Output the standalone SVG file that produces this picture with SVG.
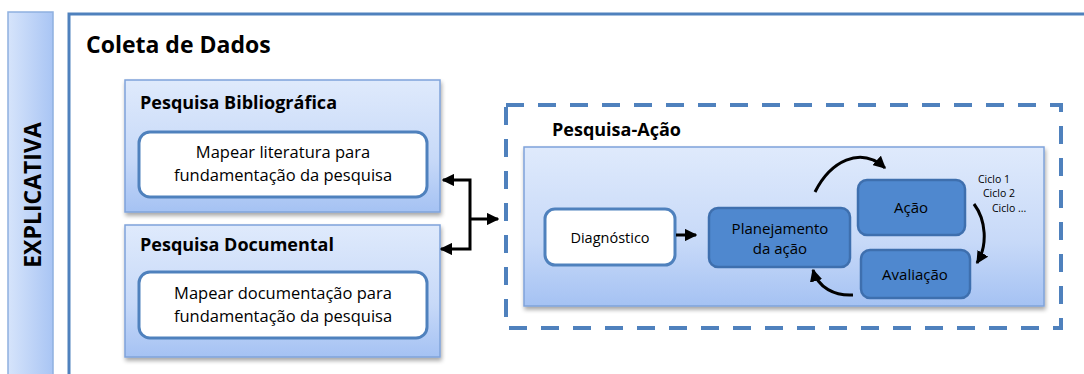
<svg xmlns="http://www.w3.org/2000/svg" width="1084" height="374" viewBox="0 0 1084 374">
<defs>
<linearGradient id="gb" x1="0" y1="0" x2="0" y2="1">
<stop offset="0" stop-color="#dfeafc"/>
<stop offset="0.6" stop-color="#c7d9f8"/>
<stop offset="1" stop-color="#a5c2f3"/>
</linearGradient>
<linearGradient id="gv" x1="0" y1="0" x2="1" y2="0">
<stop offset="0" stop-color="#d6e4fb"/>
<stop offset="1" stop-color="#a9c5f4"/>
</linearGradient>
<filter id="sh" x="-10%" y="-10%" width="120%" height="130%">
<feGaussianBlur in="SourceAlpha" stdDeviation="2"/>
<feOffset dx="1" dy="3" result="o"/>
<feComponentTransfer><feFuncA type="linear" slope="0.35"/></feComponentTransfer>
<feMerge><feMergeNode/><feMergeNode in="SourceGraphic"/></feMerge>
</filter>
<marker id="ah" viewBox="0 0 10 10" refX="9" refY="5" markerWidth="4.2" markerHeight="4.2" orient="auto-start-reverse" markerUnits="strokeWidth">
<path d="M0,0 L10,5 L0,10 z" fill="#000"/>
</marker>
</defs>
<style>
.t{font-family:"Open Sans","Liberation Sans",sans-serif;fill:#000}
.b{font-weight:bold}
.outer{fill:url(#gb);stroke:#7fa3da;stroke-width:1.5}
.white{fill:#fff;stroke:#4f81bd;stroke-width:3}
.mid{fill:#4f88cf;stroke:#3e6fae;stroke-width:2.5}
.con{fill:none;stroke:#000;stroke-width:3}
</style>
<rect width="1084" height="374" fill="#fff"/>

<g id="explicativa">
<rect x="8" y="12" width="45" height="370" fill="url(#gv)" stroke="#8fb0e0" stroke-width="1.5"/>
<text class="t b" x="41" y="195" font-size="23" text-anchor="middle" transform="rotate(-90 41 195)">EXPLICATIVA</text>
</g>

<g id="coleta">
<rect x="69" y="14" width="1030" height="380" fill="#fff" stroke="#4f81bd" stroke-width="3"/>
<text class="t b" x="86" y="53" font-size="23">Coleta de Dados</text>
</g>

<g id="bibliografica">
<rect class="outer" x="125" y="80" width="315" height="132" filter="url(#sh)"/>
<text class="t b" x="140" y="109" font-size="18">Pesquisa Bibliográfica</text>
<rect class="white" x="139" y="132" width="288" height="65" rx="11"/>
<text class="t" x="283" y="158" font-size="16.5" text-anchor="middle">Mapear literatura para</text>
<text class="t" x="283" y="181" font-size="16.5" text-anchor="middle">fundamentação da pesquisa</text>
</g>

<g id="documental">
<rect class="outer" x="125" y="225" width="315" height="132" filter="url(#sh)"/>
<text class="t b" x="140" y="251" font-size="18">Pesquisa Documental</text>
<rect class="white" x="139" y="272" width="288" height="66" rx="11"/>
<text class="t" x="283" y="299" font-size="16.5" text-anchor="middle">Mapear documentação para</text>
<text class="t" x="283" y="322" font-size="16.5" text-anchor="middle">fundamentação da pesquisa</text>
</g>

<g id="pesquisa-acao">
<rect x="506" y="105" width="555" height="223" fill="none" stroke="#4f81bd" stroke-width="4" stroke-dasharray="18,14"/>
<text class="t b" x="552" y="136" font-size="18">Pesquisa-Ação</text>
<rect class="outer" x="524" y="147" width="520" height="159" filter="url(#sh)"/>
</g>

<g id="diagnostico">
<rect class="white" x="545" y="209" width="130" height="56" rx="10"/>
<text class="t" x="610" y="243" font-size="14.5" text-anchor="middle">Diagnóstico</text>
</g>

<g id="planejamento">
<rect class="mid" x="709" y="208" width="141" height="59" rx="9"/>
<text class="t" x="780" y="234" font-size="15" text-anchor="middle">Planejamento</text>
<text class="t" x="780" y="254" font-size="15" text-anchor="middle">da ação</text>
</g>

<g id="acao">
<rect class="mid" x="858" y="180" width="107" height="55" rx="9"/>
<text class="t" x="911" y="213" font-size="15" text-anchor="middle">Ação</text>
</g>

<g id="avaliacao">
<rect class="mid" x="861" y="250" width="109" height="48" rx="9"/>
<text class="t" x="915" y="280" font-size="15" text-anchor="middle">Avaliação</text>
</g>

<g id="ciclos">
<text class="t" x="978" y="183" font-size="10.5">Ciclo 1</text>
<text class="t" x="983" y="197" font-size="10.5">Ciclo 2</text>
<text class="t" x="992" y="212" font-size="10.5">Ciclo ...</text>
</g>

<g id="connectors">
<path class="con" d="M443,180 L470,180 L470,249 L441,249" marker-start="url(#ah)" marker-end="url(#ah)" stroke-linejoin="miter"/>
<path class="con" d="M470,219 L498,219" marker-end="url(#ah)"/>
<path class="con" d="M676,235 L696,235" marker-end="url(#ah)"/>
<path class="con" d="M815,192 C830,162 860,145 885,168" marker-end="url(#ah)"/>
<path class="con" d="M974,204 C986,220 988,245 977,263" marker-end="url(#ah)"/>
<path class="con" d="M853,295 C835,296 818,288 813,270" marker-end="url(#ah)"/>
</g>
</svg>
